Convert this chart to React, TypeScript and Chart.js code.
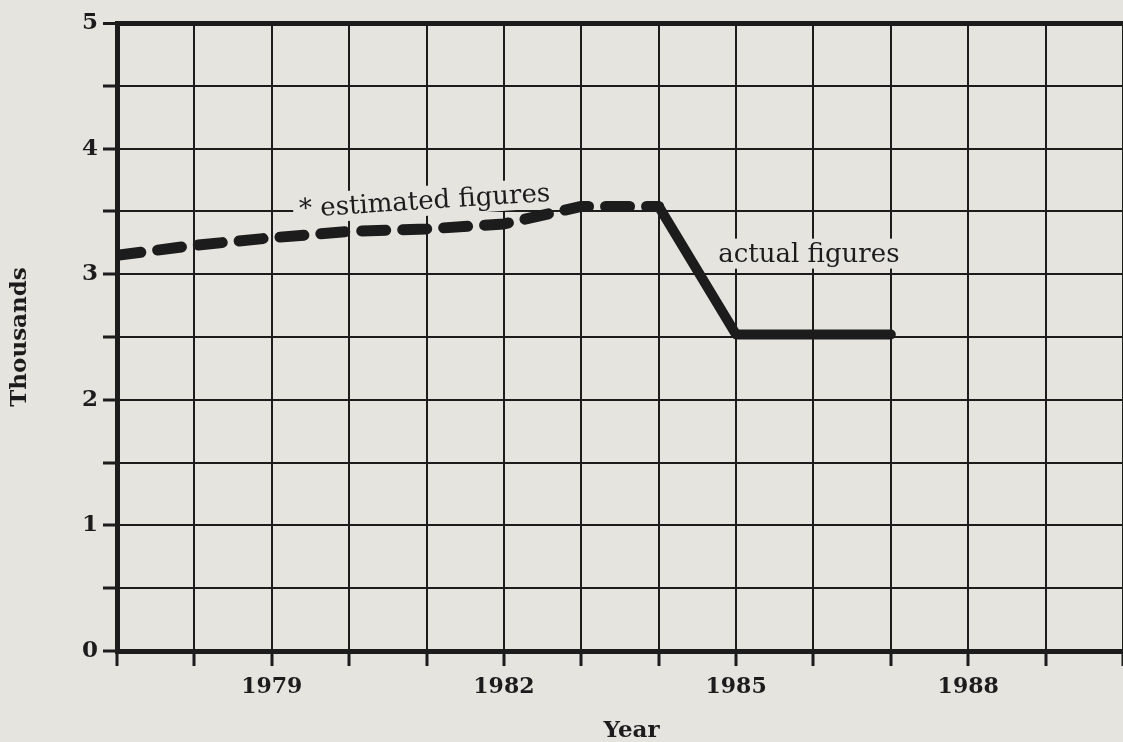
import React, { useEffect, useRef } from 'react';
import { Chart, registerables } from 'chart.js';

Chart.register(...registerables);

// ---- data ----
const estimatedYears = [1977, 1978, 1979, 1980, 1981, 1982, 1983, 1984];
const estimatedValues = [3.15, 3.23, 3.29, 3.34, 3.36, 3.4, 3.54, 3.54];
const actualYears = [1984, 1985, 1986, 1987];
const actualValues = [3.54, 2.52, 2.52, 2.52];
const labeledYears = [1979, 1982, 1985, 1988];
const yearRange = [1977, 1990];
const valueRange = [0, 5];
const yAxisTitle = 'Thousands';
const xAxisTitle = 'Year';
const annotations = [
  { text: '* estimated figures', x: 1979.36, y: 3.455, angle: -3.7 },
  { text: 'actual figures', x: 1984.77, y: 3.1, angle: 0 },
];
const xTitleAnchor = 1983.65;

const PAPER = '#e6e4df';
const INK = '#1c1c1c';
const SERIF = '"DejaVu Serif", "Liberation Serif", serif';

const paperPlugin = {
  id: 'paper',
  beforeDraw(chart: any) {
    const { ctx } = chart;
    ctx.save();
    ctx.fillStyle = PAPER;
    ctx.fillRect(0, 0, chart.width, chart.height);
    ctx.restore();
  },
};

const labelPlugin = {
  id: 'annotLabels',
  beforeDatasetsDraw(chart: any) {
    const { ctx } = chart;
    const xs = chart.scales.x;
    const ys = chart.scales.y;
    annotations.forEach((a) => {
      const px = xs.getPixelForValue(a.x);
      const py = ys.getPixelForValue(a.y);
      ctx.save();
      ctx.translate(px, py);
      ctx.rotate((a.angle * Math.PI) / 180);
      ctx.font = `26px ${SERIF}`;
      const w = ctx.measureText(a.text).width;
      ctx.fillStyle = PAPER;
      ctx.fillRect(-6, -23, w + 10, 30);
      ctx.fillStyle = INK;
      ctx.textBaseline = 'alphabetic';
      ctx.textAlign = 'left';
      ctx.fillText(a.text, 0, 0);
      ctx.restore();
    });
  },
  afterDraw(chart: any) {
    const { ctx } = chart;
    const xs = chart.scales.x;
    ctx.save();
    ctx.font = `bold 23px ${SERIF}`;
    ctx.fillStyle = INK;
    ctx.textAlign = 'center';
    ctx.textBaseline = 'alphabetic';
    ctx.fillText(xAxisTitle, xs.getPixelForValue(xTitleAnchor), chart.height - 5);
    ctx.restore();
  },
};

export default function App() {
  const ref = useRef<HTMLCanvasElement | null>(null);

  useEffect(() => {
    document.body.style.margin = '0';
    document.body.style.background = PAPER;
    const canvas = ref.current;
    if (!canvas) return;
    const chart = new Chart(canvas, {
      type: 'line',
      data: {
        datasets: [
          {
            label: 'estimated figures',
            data: estimatedYears.map((x, i) => ({ x, y: estimatedValues[i] })),
            borderColor: INK,
            borderWidth: 11,
            borderDash: [24, 17],
            borderCapStyle: 'round',
            borderJoinStyle: 'round',
            pointRadius: 0,
            tension: 0,
            fill: false,
          },
          {
            label: 'actual figures',
            data: actualYears.map((x, i) => ({ x, y: actualValues[i] })),
            borderColor: INK,
            borderWidth: 10,
            borderCapStyle: 'round',
            borderJoinStyle: 'round',
            pointRadius: 0,
            tension: 0,
            fill: false,
          },
        ],
      },
      options: {
        animation: false,
        responsive: false,
        devicePixelRatio: 1,
        layout: { padding: { top: 23, right: 0, left: 0, bottom: 0 } },
        plugins: { legend: { display: false }, tooltip: { enabled: false } },
        scales: {
          x: {
            type: 'linear',
            min: yearRange[0],
            max: yearRange[1],
            afterFit: (s: any) => {
              s.height = 91;
              s.paddingLeft = 0;
              s.paddingRight = 0;
            },
            ticks: {
              stepSize: 1,
              autoSkip: false,
              maxRotation: 0,
              padding: 8,
              color: INK,
              font: { family: SERIF, size: 22, weight: 'bold' },
              callback: (v: any) => (labeledYears.includes(Number(v)) ? String(v) : ''),
            },
            grid: { color: INK, lineWidth: 2, tickLength: 15, tickWidth: 3, tickColor: INK },
            border: { color: INK, width: 5 },
            title: { display: false, text: xAxisTitle },
          },
          y: {
            type: 'linear',
            min: valueRange[0],
            max: valueRange[1],
            afterFit: (s: any) => {
              s.width = 117;
            },
            ticks: {
              stepSize: 0.5,
              autoSkip: false,
              padding: 5,
              color: INK,
              font: { family: SERIF, size: 23, weight: 'bold' },
              callback: (v: any) => (Number.isInteger(Number(v)) ? String(v) : ''),
            },
            grid: {
              color: INK,
              lineWidth: (c: any) => (c.tick && c.tick.value === valueRange[1] ? 5 : 2),
              tickLength: 14,
              tickWidth: 3,
              tickColor: INK,
            },
            border: { color: INK, width: 5 },
            title: {
              display: true,
              text: yAxisTitle,
              color: INK,
              font: { family: SERIF, size: 23, weight: 'bold' },
              padding: { top: 6, bottom: 0 },
            },
          },
        },
      },
      plugins: [paperPlugin, labelPlugin],
    } as any);
    return () => chart.destroy();
  }, []);

  return <canvas ref={ref} width={1123} height={742} style={{ display: 'block' }} />;
}
